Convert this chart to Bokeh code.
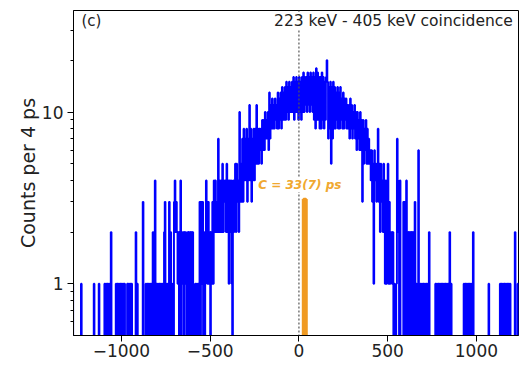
import numpy as np
from bokeh.plotting import figure
from bokeh.models import Range1d, FixedTicker, Label, Span
from bokeh.embed import file_html
from bokeh.resources import INLINE

# ---------------- data ----------------
bin_width = 4          # ps
hist_start = -1280     # ps, first bin edge
hist_stop = 1240       # ps, last bin edge

# sparse left tail (bin left edge in ps, counts)
left_tail_dt = [-1276, -1228, -1156, -1128, -1096, -1088, -1080, -1072, -1060,
                -1032, -1024, -1016, -1008, -1000, -992, -984,
                -968, -960, -952, -944, -920, -912, -880,
                -864, -856, -848, -840, -832, -824, -812,
                -804, -796, -788, -780, -772, -760, -756, -744, -732, -724,
                -712, -704, -700, -696, -692, -688, -684, -680, -672, -668,
                -660, -656, -652, -644, -640, -636, -628, -620, -616, -608,
                -600, -596, -584, -576, -568]
left_tail_n = [1, 1, 1, 1, 1, 1, 1, 1, 2,
               1, 1, 1, 1, 1, 1, 1,
               1, 1, 1, 1, 2, 1, 3,
               1, 1, 1, 1, 1, 2, 4,
               1, 1, 1, 1, 1, 2, 3, 1, 3, 2,
               1, 3, 4, 2, 3, 2, 1, 2, 2, 4,
               1, 2, 2, 2, 2, 1, 2, 2, 2, 2,
               2, 1, 1, 1, 1]

# dense core, 4 ps bins starting at -560 ps
core_start = -560
core_counts = [
    3, 0, 3, 1, 3, 0, 2, 0, 1, 4,
    2, 1, 3, 1, 2, 0, 2, 1, 3, 1,
    4, 2, 4, 2, 3, 2, 7, 2, 4, 2,
    4, 2, 5, 2, 4, 3, 4, 2, 5, 2,
    4, 1, 4, 2, 4, 1, 0, 4, 2, 4,
    5, 2, 5, 3, 4, 2, 10, 3, 5, 3,
    7, 3, 8, 4, 7, 4, 8, 3, 7, 4,
    11, 4, 8, 3, 7, 4, 8, 4, 8, 5,
    11, 5, 8, 5, 8, 6, 8, 5, 9, 6,
    9, 6, 10, 7, 9, 7, 10, 6, 13, 7,
    11, 8, 12, 8, 11, 8, 12, 9, 11, 8,
    13, 8, 12, 9, 13, 8, 14, 9, 13, 9,
    14, 9, 15, 10, 14, 9, 15, 10, 14, 10,
    15, 10, 16, 9, 15, 10, 16, 10, 15, 9,
    16, 10, 15, 9, 16, 10, 17, 10, 16, 11,
    16, 10, 17, 11, 16, 10, 17, 11, 16, 10,
    17, 9, 16, 8, 18, 9, 17, 9, 16, 8,
    16, 8, 17, 9, 16, 8, 15, 9, 16, 20,
    15, 7, 14, 8, 15, 5, 14, 7, 15, 8,
    14, 8, 13, 9, 14, 8, 13, 8, 14, 9,
    12, 8, 13, 8, 12, 9, 12, 8, 11, 8,
    11, 7, 12, 8, 11, 7, 10, 8, 11, 7,
    10, 6, 10, 7, 9, 6, 10, 6, 9, 3,
    9, 5, 8, 6, 9, 5, 8, 5, 7, 5,
    6, 4, 6, 3, 5, 1, 6, 4, 5, 3,
    5, 8, 3, 5, 2, 5, 3, 4, 2, 5,
    3, 1, 4, 1, 3, 5, 1, 3, 1, 2,
    2, 1, 2, 0, 1, 0, 0, 1, 7, 4,
]

# sparse right tail
right_tail_dt = [560, 568, 588, 592, 600, 604, 612, 620, 628, 636,
                 644, 652, 660, 672, 684, 692, 700, 708, 716, 724,
                 732, 768, 776, 784, 792, 800, 808, 816, 824, 832,
                 840, 848, 856, 928, 936, 944, 952, 960, 968, 980,
                 1068, 1132, 1140, 1148, 1156, 1164, 1172, 1180, 1188, 1216,
                 1232]
right_tail_n = [2, 4, 3, 3, 3, 4, 2, 2, 2, 2,
                2, 3, 1, 6, 1, 1, 1, 1, 1, 1,
                2, 1, 1, 1, 1, 1, 1, 1, 1, 1,
                1, 2, 1, 1, 1, 1, 1, 1, 1, 2,
                1, 1, 1, 1, 1, 1, 1, 1, 1, 2,
                1]

# centroid shift annotation
C_ps = 33
C_err = 7
C_bar_top = 3.1
C_text = "C = 33(7) ps"
ref_dt = 0

x_ticks = [-1000, -500, 0, 500, 1000]
y_ticks = [1, 10]
y_minor = [0.6, 0.7, 0.8, 0.9, 2, 3, 4, 5, 6, 7, 8, 9, 20, 30]

# ---------------- build histogram ----------------
edges = np.arange(hist_start, hist_stop + bin_width, bin_width)
counts = np.zeros(len(edges) - 1)


def put(dts, ns):
    for d, n in zip(dts, ns):
        i = int((d - hist_start) // bin_width)
        if 0 <= i < len(counts):
            counts[i] = n


put(left_tail_dt, left_tail_n)
put([core_start + bin_width * k for k in range(len(core_counts))], core_counts)
put(right_tail_dt, right_tail_n)

floor = 0.05
yv = np.where(counts > 0, counts, floor)
xs = [edges[0]]
ys = [floor]
for i in range(len(yv)):
    xs += [edges[i], edges[i + 1]]
    ys += [yv[i], yv[i]]
xs.append(edges[-1])
ys.append(floor)

# ---------------- figure ----------------
FONT = "DejaVu Sans"
orange = "#F09A22"

p = figure(width=526, height=384, y_axis_type="log",
           x_range=Range1d(-1270, 1237), y_range=Range1d(0.5, 39),
           output_backend="svg", toolbar_location=None,
           min_border_left=73, min_border_right=8,
           min_border_top=10, min_border_bottom=49)
p.grid.visible = False
p.outline_line_color = "black"
p.outline_line_width = 1
p.background_fill_color = "white"
p.border_fill_color = "white"

p.line(xs, ys, line_color="blue", line_width=1.9)

p.quad(left=[C_ps - C_err], right=[C_ps + C_err], bottom=[floor], top=[C_bar_top],
       fill_color=orange, line_color=orange, line_width=3.5)

p.add_layout(Span(location=ref_dt, dimension="height", line_color="#555555",
                  line_width=1.2, line_dash="2 2"))

for ax in (p.xaxis[0], p.yaxis[0]):
    ax.axis_line_color = "black"
    ax.major_tick_line_color = "black"
    ax.minor_tick_line_color = "black"
    ax.major_tick_in = 0
    ax.major_tick_out = 6
    ax.minor_tick_in = 0
    ax.minor_tick_out = 3
    ax.major_label_text_font = FONT
    ax.major_label_text_font_size = "17px"
    ax.major_label_text_color = "#222222"

p.xaxis.ticker = FixedTicker(ticks=x_ticks, minor_ticks=[])
p.xaxis.major_label_overrides = {t: (str(t).replace("-", "\u2212")) for t in x_ticks}
p.xaxis.major_label_standoff = 2

p.yaxis.ticker = FixedTicker(ticks=y_ticks, minor_ticks=y_minor)
p.yaxis.major_label_overrides = {1: "1", 10: "10"}
p.yaxis.major_label_standoff = 4
p.yaxis.axis_label = "Counts per 4 ps"
p.yaxis.axis_label_text_font = FONT
p.yaxis.axis_label_text_font_size = "19px"
p.yaxis.axis_label_text_font_style = "normal"
p.yaxis.axis_label_text_color = "#222222"
p.yaxis.axis_label_standoff = 0

# x-axis label drawn as label below the frame
p.add_layout(Label(x=(p.x_range.start + p.x_range.end) / 2 + 20, y=-39,
                   y_units="screen", text="dt (ps)", text_font=FONT,
                   text_font_size="19px", text_color="#222222",
                   text_align="center", text_baseline="middle"))

p.add_layout(Label(x=-1225, y=34, text="(c)", text_font=FONT,
                   text_font_size="15px", text_color="#222222",
                   text_align="left", text_baseline="middle"))
p.add_layout(Label(x=1205, y=34, text="223 keV - 405 keV coincidence",
                   text_font=FONT, text_font_size="15.5px", text_color="#222222",
                   text_align="right", text_baseline="middle",
                   background_fill_color="white"))
p.add_layout(Label(x=5, y=3.76, text=C_text, text_font=FONT,
                   text_font_size="12px", text_font_style="bold italic",
                   text_color="#F0A830", text_align="center",
                   text_baseline="middle", background_fill_color="white"))

open("out.html", "w").write(file_html(p, INLINE))
